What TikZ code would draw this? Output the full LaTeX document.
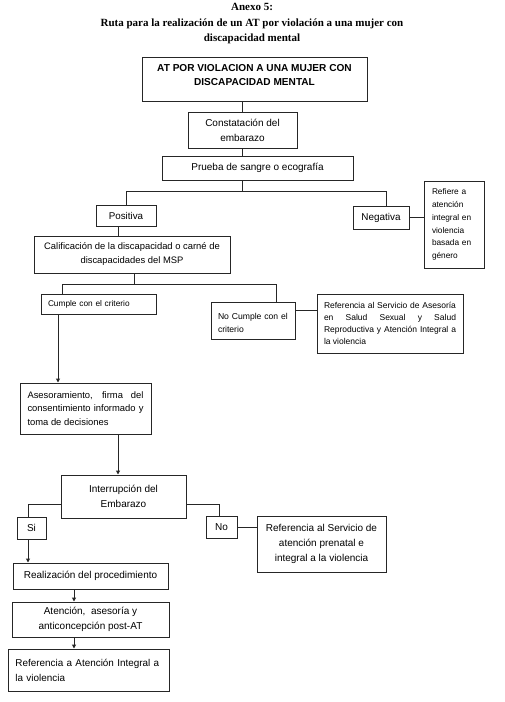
\documentclass[tikz,border=0pt]{standalone}
\usepackage{fontspec}
\setmainfont{Liberation Sans}
\newfontfamily\titlefont{Liberation Serif}
\usetikzlibrary{arrows.meta}
\newcommand\fs[2]{\fontsize{#1}{#2}\selectfont}
\begin{document}
\begin{tikzpicture}[x=1pt,y=-1pt,
  bx/.style={draw=black!85, line width=1pt, inner sep=0pt, font=\fs{10}{15}},
  ln/.style={draw=black!85, line width=1pt},
  ar/.style={ln, -{Triangle[length=4pt,width=4pt]}}]
\fill[white] (0,0) rectangle (504,702);
\useasboundingbox (0,0) rectangle (504,702);
\node[font=\titlefont\bfseries\fs{11}{15.5}, align=center, inner sep=0pt] (title) at (252,24)
  {Anexo 5:\\Ruta para la realización de un AT por violación a una mujer con\\discapacidad mental};
\node[bx, font=\bfseries\fs{10.1}{14}, minimum width=225, minimum height=44, align=center, text depth=8pt] (b1) at (254.5,79)
  {AT POR VIOLACION A UNA MUJER CON\\DISCAPACIDAD MENTAL};
\node[bx, minimum width=109, minimum height=36, align=center] (b2) at (242.5,130) {Constatación del\\embarazo};
\node[bx, minimum width=191, minimum height=24] (b3) at (257.5,168) {Prueba de sangre o ecografía};
\node[bx, font=\fs{9.8}{12}, minimum width=60, minimum height=21] (pos) at (126,215.5) {Positiva};
\node[bx, font=\fs{9.9}{12}, minimum width=56, minimum height=23] (neg) at (381,217.5) {Negativa};
\node[bx, font=\fs{8.3}{12.7}, minimum height=87, inner xsep=8pt, text width=44pt, align=left] (ref1) at (454,224.5)
  {Refiere a\\atención\\integral en\\violencia\\basada en\\género};
\node[bx, font=\fs{9.4}{14}, minimum width=196, minimum height=37, align=center] (cal) at (132,254.5)
  {Calificación de la discapacidad o carné de\\discapacidades del MSP};
\node[bx, font=\fs{8.3}{12}, minimum height=20, inner xsep=7pt, text width=101pt, align=left] (cum) at (98.5,304)
  {Cumple con el criterio};
\node[bx, font=\fs{8.6}{13}, minimum height=37, inner xsep=7pt, text width=70pt, align=left, text depth=8pt] (ncum) at (253,320.5)
  {No Cumple con el\\criterio};
\node[bx, font=\fs{8.5}{12}, minimum height=59, inner xsep=7pt, text width=132pt, align=justify] (ref2) at (390,323.5)
  {Referencia al Servicio de Asesoría\linebreak en Salud Sexual y Salud\linebreak Reproductiva y Atención Integral a\linebreak la violencia};
\node[bx, font=\fs{9.4}{13.5}, minimum height=51, inner xsep=7.5pt, text width=116pt, align=justify] (ase) at (85.5,408.5)
  {Asesoramiento, firma del\linebreak consentimiento informado y\linebreak toma de decisiones};
\node[bx, minimum width=125, minimum height=43, align=center] (int) at (123.5,496.5) {Interrupción del\\Embarazo};
\node[bx, minimum width=29, minimum height=22] (si) at (31.5,528) {Si};
\node[bx, minimum width=31, minimum height=22] (no) at (221.5,527) {No};
\node[bx, minimum width=129, minimum height=56, align=center] (ref3) at (321.5,544)
  {Referencia al Servicio de\\atención prenatal e\\integral a la violencia};
\node[bx, minimum width=155, minimum height=26] (real) at (90.5,576) {Realización del procedimiento};
\node[bx, minimum width=157, minimum height=35, align=center] (aten) at (90.5,619.5)
  {Atención,\ \ asesoría y\\anticoncepción post-AT};
\node[bx, font=\fs{9.9}{15}, minimum height=42, inner xsep=7.5pt, text width=146pt, align=left] (ref4) at (88.5,670)
  {Referencia a Atención Integral a\\la violencia};
% connectors
\draw[ln] (b2.north) -- (b2.north |- b1.south);
\draw[ln] (b2.south) -- (b2.south |- b3.north);
\coordinate (j1) at (242,191);
\draw[ln] (b3.south -| j1) -- (j1);
\draw[ln] (pos.north) |- (j1);
\coordinate (nn) at ([xshift=5pt]neg.north);
\draw[ln] (nn) |- (j1);
\draw[ln] (neg.east) -- (neg.east -| ref1.west);
\coordinate (ps) at ([xshift=-8pt]pos.south);
\draw[ln] (ps) -- (ps |- cal.north);
\coordinate (j2) at (134,284);
\draw[ln] (cal.south -| j2) -- (j2);
\coordinate (cn) at ([xshift=-36.5pt]cum.north);
\draw[ln] (cn) |- (j2);
\coordinate (ncn) at ([xshift=23pt]ncum.north);
\draw[ln] (ncn) |- (j2);
\coordinate (cs) at ([xshift=-40.5pt]cum.south);
\draw[ar] (cs) -- (cs |- ase.north);
\coordinate (nce) at ([yshift=10.5pt]ncum.east);
\draw[ln] (nce) -- (nce -| ref2.west);
\coordinate (in) at ([xshift=-5.5pt]int.north);
\draw[ar] (in |- ase.south) -- (in);
\coordinate (iw) at ([yshift=-7.5pt]int.west);
\coordinate (sn) at ([xshift=-3.5pt]si.north);
\draw[ln] (iw) -| (sn);
\coordinate (ie) at ([yshift=-7.5pt]int.east);
\coordinate (non) at ([xshift=-2.5pt]no.north);
\draw[ln] (ie) -| (non);
\draw[ln] (no.east) -- (no.east -| ref3.west);
\coordinate (ss) at ([xshift=-3.5pt]si.south);
\draw[ar] (ss) -- (ss |- real.north);
\coordinate (rs) at ([xshift=-16.5pt]real.south);
\draw[ar] (rs) -- (rs |- aten.north);
\coordinate (as) at ([xshift=-16.5pt]aten.south);
\draw[ar] (as) -- (as |- ref4.north);
\end{tikzpicture}
\end{document}
